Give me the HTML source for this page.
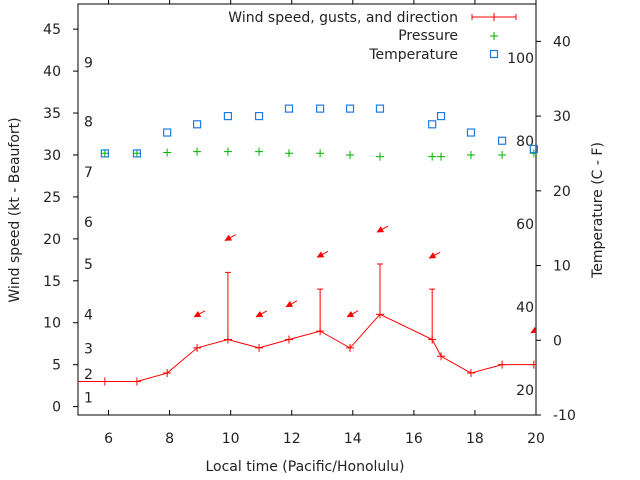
<!DOCTYPE html>
<html><head><meta charset="utf-8"><style>
html,body{margin:0;padding:0;background:#fff}
svg{display:block;font-family:"DejaVu Sans","Liberation Sans",sans-serif}
</style></head><body>
<svg id="chart" width="640" height="480" viewBox="0 0 640 480" xmlns="http://www.w3.org/2000/svg">
<rect width="640" height="480" fill="#fff"/>
<g id="axes"></g>
<g id="plot"></g>
<g id="legend">
 <text x="458" y="22" text-anchor="end" font-size="14" fill="#222">Wind speed, gusts, and direction</text>
 <g stroke="red" stroke-width="1"><line x1="472" y1="17" x2="516" y2="17"/><line x1="472" y1="14" x2="472" y2="20"/><line x1="516" y1="14" x2="516" y2="20"/><line x1="494" y1="13" x2="494" y2="21"/></g>
 <text x="458" y="40" text-anchor="end" font-size="14" fill="#222">Pressure</text>
 <g stroke="#00b000"><line x1="490" y1="36" x2="498" y2="36"/><line x1="494" y1="32" x2="494" y2="40"/></g>
 <text x="458" y="59" text-anchor="end" font-size="14" fill="#222">Temperature</text>
 <rect x="490.5" y="50.5" width="7" height="7" fill="none" stroke="#1e7be6" stroke-width="1.2"/>
</g>
<text transform="translate(19,210) rotate(-90)" text-anchor="middle" font-size="14" fill="#222">Wind speed (kt - Beaufort)</text>
<text transform="translate(602,210) rotate(-90)" text-anchor="middle" font-size="14" fill="#222">Temperature (C - F)</text>
<text x="305" y="471" text-anchor="middle" font-size="14" fill="#222">Local time (Pacific/Honolulu)</text>
</svg>
<script>
const hours=[4.9,5.88,6.93,7.92,8.9,9.91,10.93,11.91,12.93,13.91,14.89,16.6,16.89,17.87,18.89,19.93];
const wind=[3,3,3,4,7,8,7,8,9,7,11,8,6,4,5,5];
const gustHours=[9.91,12.93,14.89,16.6];
const gusts=[16,14,17,14];
const pressure=[30.2,30.2,30.2,30.3,30.4,30.4,30.4,30.2,30.2,30.0,29.8,29.8,29.8,30.0,30.0,30.2];
const tempC=[25,25,25,27.8,28.9,30,30,31,31,31,31,28.9,30,27.8,26.7,25.6];
const arrowHours=[8.9,9.91,10.93,11.91,12.93,13.91,14.89,16.6,19.93];
const arrowLevel=[10.7,19.8,10.7,11.9,17.8,10.7,20.8,17.7,8.8];
const xTicks=[6,8,10,12,14,16,18,20];
const yTicks=[0,5,10,15,20,25,30,35,40,45];
const y2Ticks=[-10,0,10,20,30,40];
const fTicks=[20,40,60,80,100];
const beaufort=[1,2,3,4,5,6,7,8,9];
const beaufortLevel=[1.1,3.9,6.9,11,17,22,28,34,41];

const L=78,R=536,T=4,B=415,NS="http://www.w3.org/2000/svg";
const X=h=>L+(h-5)*(R-L)/15;
const Y=v=>B-(v+1)*(B-T)/49;
const Y2=c=>B-(c+10)*(B-T)/55;
const axes=document.getElementById('axes'),plot=document.getElementById('plot');
function mk(tag,attrs,parent){const e=document.createElementNS(NS,tag);for(const k in attrs)e.setAttribute(k,attrs[k]);parent.appendChild(e);return e;}

const frame=mk('rect',{x:L,y:T,width:R-L,height:B-T,fill:'none',stroke:'#000','stroke-width':1},axes);


xTicks.forEach(t=>{
 const g=mk('g',{},axes);
 
 
 mk('line',{x1:X(t),x2:X(t),y1:B,y2:B-5,stroke:'#000'},g);
 mk('line',{x1:X(t),x2:X(t),y1:T,y2:T-4,stroke:'#000'},g);
 const tx=mk('text',{x:X(t),y:443,'text-anchor':'middle','font-size':14,fill:'#222'},g);tx.textContent=t;
});
yTicks.forEach(t=>{
 const g=mk('g',{},axes);
 
 
 mk('line',{x1:L-5,x2:L,y1:Y(t),y2:Y(t),stroke:'#000'},g);
 const tx=mk('text',{x:61,y:Y(t)+5,'text-anchor':'end','font-size':14,fill:'#222'},g);tx.textContent=t;
});
y2Ticks.forEach(t=>{
 const g=mk('g',{},axes);
 
 
 mk('line',{x1:R,x2:R+5,y1:Y2(t),y2:Y2(t),stroke:'#000'},g);
 const tx=mk('text',{x:553,y:Y2(t)+5,'text-anchor':'start','font-size':14,fill:'#222'},g);tx.textContent=t;
});
fTicks.forEach(f=>{
 const tx=mk('text',{x:534,y:Y2((f-32)*5/9)+5,'text-anchor':'end','font-size':14,fill:'#222'},axes);
 
 
 tx.textContent=f;
});
beaufort.forEach((b,i)=>{
 const tx=mk('text',{x:84,y:Y(beaufortLevel[i])+5,'font-size':14,fill:'#222'},axes);
 
 
 tx.textContent=b;
});

const clip=mk('clipPath',{id:'pc'},mk('defs',{},plot));
mk('rect',{x:L,y:T,width:R-L,height:B-T},clip);
const pg=mk('g',{'clip-path':'url(#pc)'},plot);

const ln=mk('polyline',{points:hours.map((h,i)=>X(h)+','+Y(wind[i])).join(' '),fill:'none',stroke:'red','stroke-width':1},pg);


hours.forEach((h,i)=>{
 const p=mk('path',{d:`M${X(h)-4},${Y(wind[i])}h8M${X(h)},${Y(wind[i])-4}v8`,stroke:'red'},pg);
 
 
});
gustHours.forEach((h,i)=>{
 const w=wind[hours.indexOf(h)];
 const p=mk('path',{d:`M${X(h)},${Y(w)}V${Y(gusts[i])}M${X(h)-3},${Y(gusts[i])}h6`,stroke:'red'},pg);
 
 
});
const ux=11/12.5,uy=-6/12.5,px=6/12.5,py=11/12.5;
arrowHours.forEach((h,i)=>{
 const x=X(h)-3,y=Y(arrowLevel[i]);
 const g=mk('g',{},pg);
 
 
 mk('line',{x1:x,y1:y,x2:x+11,y2:y-6,stroke:'red'},g);
 const bx=x+6*ux,by=y+6*uy;
 mk('polygon',{points:`${x},${y} ${bx+3*px},${by+3*py} ${bx-3*px},${by-3*py}`,fill:'red',stroke:'red','stroke-width':0.5},g);
});
hours.forEach((h,i)=>{
 if(i===0)return;
 const p=mk('path',{d:`M${X(h)-4},${Y(pressure[i])}h8M${X(h)},${Y(pressure[i])-4}v8`,stroke:'#00b000'},pg);
 
 
 const r=mk('rect',{x:X(h)-3.5,y:Y2(tempC[i])-3.5,width:7,height:7,fill:'none',stroke:'#1e7be6','stroke-width':1.2},plot);
 
 
});
</script>
</body></html>
